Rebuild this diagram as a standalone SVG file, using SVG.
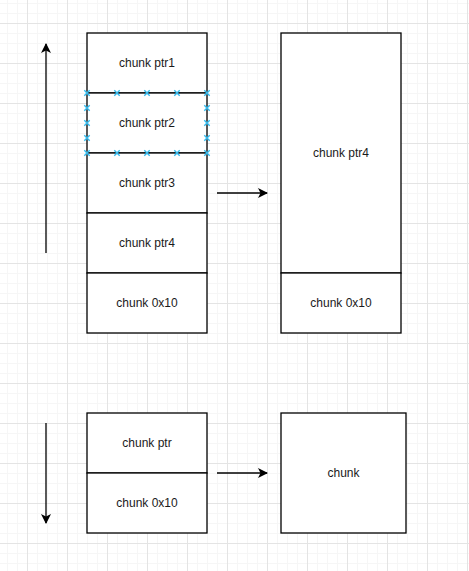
<svg xmlns="http://www.w3.org/2000/svg" width="469" height="571" viewBox="0 0 469 571">
<style>
.box{fill:#fff;stroke:#000;stroke-width:1.3}
.lbl{font-family:"Liberation Sans",Arial,sans-serif;font-size:12px;fill:#1a1a1a;text-anchor:middle;dominant-baseline:central}
.edge{stroke:#000;stroke-width:1.3;fill:none}
.sel{stroke:#33bbee;stroke-width:1.4;fill:none}
</style>
<defs>
<pattern id="minor" x="7" y="3" width="10" height="10" patternUnits="userSpaceOnUse">
<path d="M0 0.5H10M0.5 0V10" stroke="#f6f6f6" stroke-width="1" fill="none"/>
</pattern>
<pattern id="major" x="27" y="23" width="40" height="40" patternUnits="userSpaceOnUse">
<path d="M0 0.5H40M0.5 0V40" stroke="#e4e4e4" stroke-width="1" fill="none"/>
</pattern>
<marker id="arr" viewBox="0 0 10 10" refX="9" refY="5" markerWidth="10" markerHeight="10" markerUnits="userSpaceOnUse" orient="auto">
<path d="M0 0L10 5L0 10L2.5 5Z" fill="#000"/>
</marker>
<path id="x" d="M-2.7 -2.7L2.7 2.7M-2.7 2.7L2.7 -2.7"/>
</defs>
<rect width="469" height="571" fill="#fff"/>
<rect width="469" height="571" fill="url(#minor)"/>
<rect width="469" height="571" fill="url(#major)"/>
<g id="stack1">
<rect class="box" x="87" y="33" width="120" height="60"/>
<text class="lbl" x="147" y="63">chunk ptr1</text>
</g>
<g id="stack2">
<rect class="box" x="87" y="93" width="120" height="60"/>
<text class="lbl" x="147" y="123">chunk ptr2</text>
</g>
<g id="stack3">
<rect class="box" x="87" y="153" width="120" height="60"/>
<text class="lbl" x="147" y="183">chunk ptr3</text>
</g>
<g id="stack4">
<rect class="box" x="87" y="213" width="120" height="60"/>
<text class="lbl" x="147" y="243">chunk ptr4</text>
</g>
<g id="stack5">
<rect class="box" x="87" y="273" width="120" height="60"/>
<text class="lbl" x="147" y="303">chunk 0x10</text>
</g>
<g id="merged">
<rect class="box" x="281" y="33" width="120" height="240"/>
<text class="lbl" x="341" y="153">chunk ptr4</text>
</g>
<g id="merged0x10">
<rect class="box" x="281" y="273" width="120" height="60"/>
<text class="lbl" x="341" y="303">chunk 0x10</text>
</g>
<g id="bptr">
<rect class="box" x="87" y="413" width="120" height="60"/>
<text class="lbl" x="147" y="443">chunk ptr</text>
</g>
<g id="b0x10">
<rect class="box" x="87" y="473" width="120" height="60"/>
<text class="lbl" x="147" y="503">chunk 0x10</text>
</g>
<g id="chunk">
<rect class="box" x="281" y="413" width="125" height="120"/>
<text class="lbl" x="343.5" y="473">chunk</text>
</g>
<g id="selection" class="sel">
<use href="#x" x="87" y="93"/><use href="#x" x="117" y="93"/><use href="#x" x="147" y="93"/><use href="#x" x="177" y="93"/><use href="#x" x="207" y="93"/>
<use href="#x" x="87" y="153"/><use href="#x" x="117" y="153"/><use href="#x" x="147" y="153"/><use href="#x" x="177" y="153"/><use href="#x" x="207" y="153"/>
<use href="#x" x="87" y="108"/><use href="#x" x="87" y="123"/><use href="#x" x="87" y="138"/>
<use href="#x" x="207" y="108"/><use href="#x" x="207" y="123"/><use href="#x" x="207" y="138"/>
</g>
<g id="connectors">
<path class="edge" d="M46 253V44" marker-end="url(#arr)"/>
<path class="edge" d="M46 423V523" marker-end="url(#arr)"/>
<path class="edge" d="M217 193H267" marker-end="url(#arr)"/>
<path class="edge" d="M217 473H267" marker-end="url(#arr)"/>
</g>
</svg>
